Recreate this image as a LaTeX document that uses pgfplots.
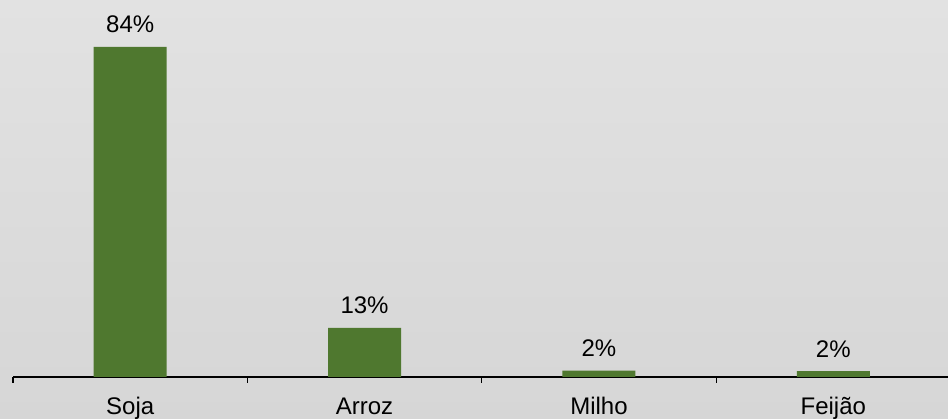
\documentclass[border=0pt]{standalone}
\usepackage{pgfplots}
\pgfplotsset{compat=1.18}
\usepackage{fontspec}
\setmainfont{Liberation Sans}
\definecolor{barc}{RGB}{79,120,47}
\definecolor{bgtop}{RGB}{226,226,226}
\definecolor{bgbot}{RGB}{214,214,214}
\begin{document}
\begin{tikzpicture}[x=1pt,y=1pt]
\shade[top color=bgtop, bottom color=bgbot] (0,0) rectangle (948,419);
\clip (0,0) rectangle (948,419);
\begin{axis}[
  at={(13pt,42pt)}, anchor=south west,
  scale only axis,
  width=937.5pt, height=369.3pt,
  xmin=-0.5, xmax=3.5, ymin=0, ymax=94,
  axis x line*=bottom, axis y line=none,
  x axis line style={black, line width=1.2pt},
  xtick={-0.5,0.5,1.5,2.5}, xticklabels={},
  extra x ticks={0,1,2,3},
  extra x tick labels={Soja,Arroz,Milho,Feijão},
  extra x tick style={major tick length=0pt, tick label style={font=\fontsize{24}{28}\selectfont, anchor=base, yshift=-38pt}},
  major tick length=6pt, tick align=inside,
  tick style={black, line width=1.2pt},
  ybar, bar width=73pt,
  point meta=explicit symbolic,
  nodes near coords,
  every node near coord/.append style={font=\fontsize{24}{28}\selectfont, anchor=base, yshift=14pt, black},
  clip=false,
]
\addplot[fill=barc, draw=none] table[meta=lab] {
x y lab
0 84.0 84\%
1 12.5 13\%
2 1.6 2\%
3 1.5 2\%
};
\end{axis}
\end{tikzpicture}
\end{document}
